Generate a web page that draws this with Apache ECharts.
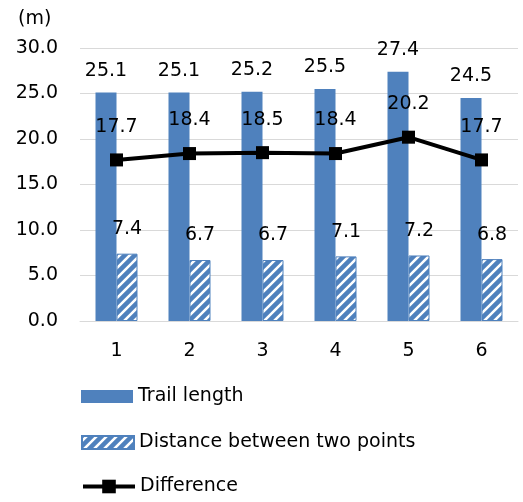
<!DOCTYPE html>
<html>
<head>
<meta charset="utf-8">
<script src="https://cdn.jsdelivr.net/npm/echarts@6/dist/echarts.min.js"></script>
<style>
html, body { margin: 0; padding: 0; background: #fff; }
#main { width: 523px; height: 502px; }
</style>
</head>
<body>
<div id="main"></div>
<script>
var categories = ['1', '2', '3', '4', '5', '6'];
var trailLength = [25.1, 25.1, 25.2, 25.5, 27.4, 24.5];
var distance = [7.4, 6.7, 6.7, 7.1, 7.2, 6.8];
var difference = [17.7, 18.4, 18.5, 18.4, 20.2, 17.7];

var blue = '#4F81BD';
var font = 'DejaVu Sans';

// hatch pattern for the distance bars
var cv = document.createElement('canvas');
cv.width = 10;
cv.height = 10;
var ctx = cv.getContext('2d');
ctx.fillStyle = '#fff';
ctx.fillRect(0, 0, 10, 10);
ctx.strokeStyle = blue;
ctx.lineWidth = 4.5;
ctx.beginPath();
ctx.moveTo(-2, 12); ctx.lineTo(12, -2);
ctx.moveTo(-7, 7); ctx.lineTo(7, -7);
ctx.moveTo(3, 17); ctx.lineTo(17, 3);
ctx.stroke();

var dom = document.getElementById('main');
var myChart = echarts.init(dom);
var labelStyle = { color: '#000', fontSize: 19, fontFamily: font };

option = {
    animation: false,
    textStyle: { fontFamily: font, color: '#000' },
    title: {
        text: '(m)',
        left: 13,
        top: 5,
        textStyle: { fontSize: 19, fontWeight: 'normal', color: '#000', fontFamily: font }
    },
    grid: { left: 80, right: 5, top: 48, bottom: 181 },
    legend: [{
        data: ['Trail length'], orient: 'vertical', left: 81, top: 387, padding: 0,
        icon: 'rect', itemWidth: 52, itemHeight: 13, textStyle: labelStyle
    }, {
        data: ['Distance between two points'], orient: 'vertical', left: 81, top: 433, padding: 0,
        icon: 'rect', itemWidth: 52, itemHeight: 13, textStyle: labelStyle
    }, {
        data: ['Difference'], orient: 'vertical', left: 81, top: 477, padding: 0,
        itemWidth: 52, itemHeight: 17, textStyle: labelStyle,
        lineStyle: { width: 4 }
    }],
    xAxis: {
        type: 'category',
        data: categories,
        axisLine: { lineStyle: { color: '#D9D9D9', width: 1 } },
        axisTick: { show: false },
        axisLabel: { margin: 21, color: '#000', fontSize: 19, fontFamily: font }
    },
    yAxis: {
        type: 'value',
        min: 0,
        max: 30,
        interval: 5,
        axisLine: { show: false },
        axisTick: { show: false },
        splitLine: { lineStyle: { color: '#D9D9D9', width: 1 } },
        axisLabel: {
            margin: 22, color: '#000', fontSize: 19, fontFamily: font,
            formatter: function (v) { return v.toFixed(1); }
        }
    },
    series: [{
        name: 'Trail length',
        type: 'bar',
        data: trailLength,
        barWidth: 21,
        barGap: '0%',
        itemStyle: { color: blue },
        label: {
            show: true, position: 'top', distance: 12,
            color: '#000', fontSize: 19, fontFamily: font,
            formatter: function (p) { return p.value.toFixed(1); }
        }
    }, {
        name: 'Distance between two points',
        type: 'bar',
        data: distance,
        barWidth: 21,
        barGap: '0%',
        itemStyle: { color: { image: cv, repeat: 'repeat' }, borderColor: blue, borderWidth: 1 },
        label: {
            show: true, position: 'top', distance: 15,
            color: '#000', fontSize: 19, fontFamily: font,
            formatter: function (p) { return p.value.toFixed(1); }
        }
    }, {
        name: 'Difference',
        type: 'line',
        data: difference,
        symbol: 'rect',
        symbolSize: 13,
        z: 5,
        lineStyle: { color: '#000', width: 4 },
        itemStyle: { color: '#000' },
        label: {
            show: true, position: 'top', distance: 17,
            color: '#000', fontSize: 19, fontFamily: font,
            formatter: function (p) { return p.value.toFixed(1); }
        }
    }]
};

myChart.setOption(option, true);
</script>
</body>
</html>
